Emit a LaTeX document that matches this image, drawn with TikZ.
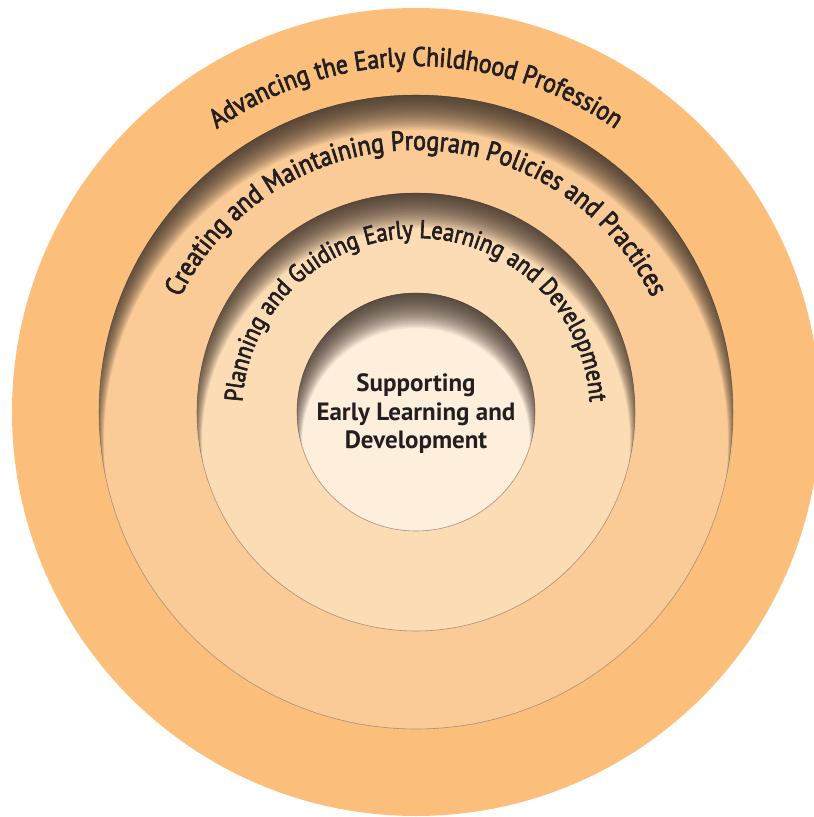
\documentclass[tikz,border=0pt]{standalone}
\usepackage{fontspec}
\setmainfont{PT Sans}
\newfontfamily\ringfont{PT Sans}[FakeBold=2.5, FakeStretch=0.88]
\usetikzlibrary{decorations.text}

\definecolor{outerring}{HTML}{FBBF7B}
\definecolor{policyring}{HTML}{FACB97}
\definecolor{planring}{HTML}{FCDCB5}
\definecolor{corering}{HTML}{FEEEDC}
\definecolor{ringedge}{HTML}{A89078}
\definecolor{shadowbrown}{HTML}{3D3027}
\definecolor{textdark}{HTML}{231F20}

\newcommand\innershade[1]{%
    \begin{scope}
        \clip (0,0) circle (#1);
        \foreach \d in {1,...,30}
            \fill[shadowbrown, opacity=0.07, even odd rule]
                (0,0) circle (#1+50) (0,-\d) circle (#1+10-0.5*\d);
    \end{scope}}

\tikzset{
    ring/.style={fill=#1, draw=ringedge, line width=0.6pt},
    ringtext/.style={decorate, decoration={text along path, text align=center,
        text color=textdark, text={#1}}}
}

\begin{document}
\begin{tikzpicture}[x=1pt, y=1pt]
    \useasboundingbox (-416,-405) rectangle (398,412);

    \fill[outerring] (0,0) circle (404);
    \draw[ring=policyring] (0,0) circle (317);
    \innershade{317}
    \draw[ring=planring] (0,0) circle (219);
    \innershade{219}
    \draw[ring=corering] (0,0) circle (119);
    \innershade{119}

    \path[ringtext={|\ringfont\fontsize{27}{30}\selectfont|Advancing the Early Childhood Profession}]
        (180:346) arc[start angle=180, end angle=0, radius=346];
    \path[ringtext={|\ringfont\fontsize{27.5}{30}\selectfont|Creating and Maintaining Program Policies and Practices}]
        (180:262) arc[start angle=180, end angle=0, radius=262];
    \path[ringtext={|\ringfont\fontsize{25.5}{30}\selectfont|Planning and Guiding Early Learning and Development}]
        (180:174) arc[start angle=180, end angle=0, radius=174];

    \node[font=\bfseries\fontsize{25}{28.5}\selectfont, align=center, text=textdark] (core) at (0,-2)
        {Supporting\\Early Learning and\\Development};
\end{tikzpicture}
\end{document}
